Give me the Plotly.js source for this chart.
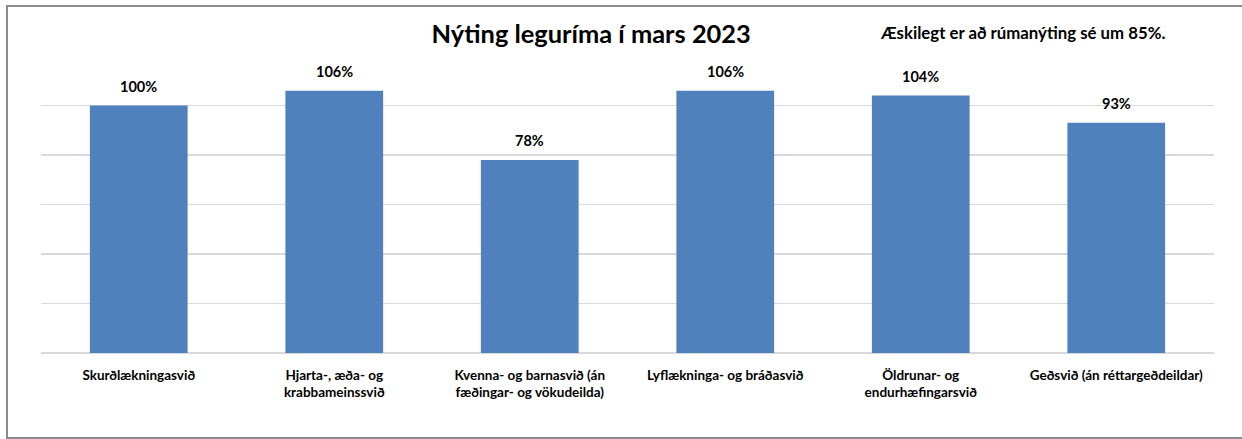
<!DOCTYPE html>
<html><head><meta charset="utf-8">
<script src="https://cdn.plot.ly/plotly-3.0.1.min.js"></script>
<style>
html,body{margin:0;padding:0;background:#fff;overflow:hidden}
#chart{width:1242px;height:439px;position:absolute;left:0;top:0}
#frame{position:absolute;left:6px;top:5px;width:1250px;height:430px;border:2px solid #8c8c8c;pointer-events:none}
</style></head>
<body>
<div id="chart"></div><div id="frame"></div>
<script>
const categories = [
  "Skurðlækningasvið",
  "Hjarta-, æða- og<br>krabbameinssvið",
  "Kvenna- og barnasvið (án<br>fæðingar- og vökudeilda)",
  "Lyflækninga- og bráðasvið",
  "Öldrunar- og<br>endurhæfingarsvið",
  "Geðsvið (án réttargeðdeildar)"
];
const values = [100, 106, 78, 106, 104, 93];
const labels = ["100%", "106%", "78%", "106%", "104%", "93%"];

const F = "Lato, 'Open Sans', sans-serif";
const annotations = categories.map((c, i) => ({
  x: c, y: values[i], xref: 'x', yref: 'y', text: '<b>' + labels[i] + '</b>',
  showarrow: false, yanchor: 'bottom', yshift: 9,
  font: {family: F, size: 14.5, color: '#000'}
}));
annotations.push({
  xref: 'paper', yref: 'paper', x: 0.837, y: 1, yshift: 24, xanchor: 'center', yanchor: 'middle',
  text: '<b>Æskilegt er að rúmanýting sé um 85%.</b>', showarrow: false,
  font: {family: F, size: 16.8, color: '#000'}
});

Plotly.newPlot('chart', [{
  type: 'bar', x: categories, y: values,
  marker: {color: '#4f81bd'}, hoverinfo: 'none'
}], {
  width: 1242, height: 439,
  margin: {l: 41, r: 28, t: 56, b: 86},
  paper_bgcolor: '#fff', plot_bgcolor: '#fff',
  bargap: 0.5,
  showlegend: false,
  title: {text: '<b>Nýting leguríma í mars 2023</b>', x: 0.476, xanchor: 'center', y: 0.922, yanchor: 'middle',
          font: {family: F, size: 25.4, color: '#000'}},
  xaxis: {showgrid: false, zeroline: false, showline: false, ticks: '',
          tickvals: categories, ticktext: categories.map(c => '<b>' + c.replace('<br>', '</b><br><b>') + '</b>'),
          tickfont: {family: F, size: 13.5, color: '#000'}, ticklabelstandoff: 12, tickangle: 0},
  yaxis: {range: [0, 120], dtick: 20, showticklabels: false, showgrid: true, gridcolor: '#d9d9d9', gridwidth: 1.5,
          zeroline: true, zerolinecolor: '#d9d9d9', zerolinewidth: 2, showline: false, ticks: ''},
  annotations: annotations,
  font: {family: F}
}, {staticPlot: true});
</script>
</body></html>
